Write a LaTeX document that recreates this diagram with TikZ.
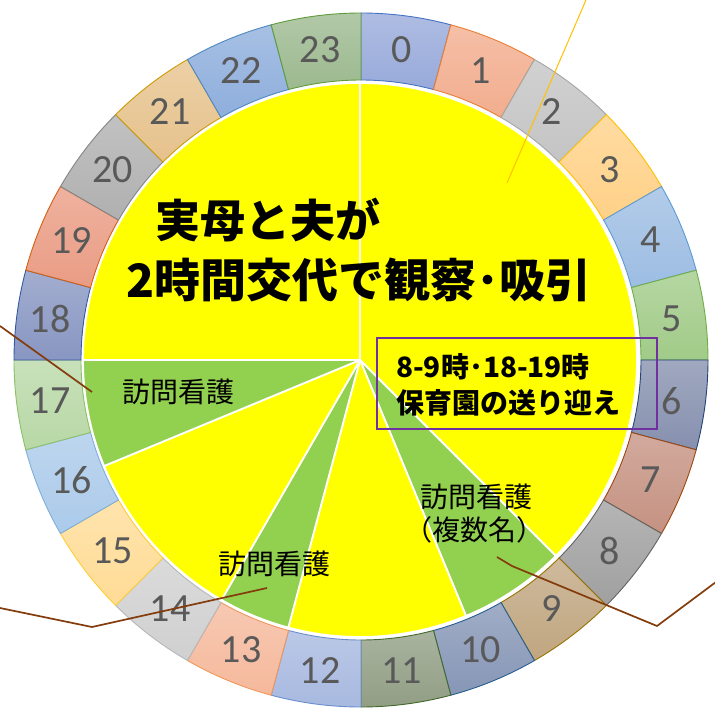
\documentclass[tikz,border=0pt]{standalone}
\usepackage{fontspec}
\newfontfamily\jp{Noto Sans CJK JP}
\newfontfamily\numf{Carlito}
\usetikzlibrary{calc}
\definecolor{s0}{HTML}{98AADA}\definecolor{b0}{HTML}{4472C4}
\definecolor{s1}{HTML}{F2AD8E}\definecolor{b1}{HTML}{ED7D31}
\definecolor{s2}{HTML}{C4C4C4}\definecolor{b2}{HTML}{A5A5A5}
\definecolor{s3}{HTML}{FFD187}\definecolor{b3}{HTML}{FFC000}
\definecolor{s4}{HTML}{9DBDE3}\definecolor{b4}{HTML}{5B9BD5}
\definecolor{s5}{HTML}{A1CB88}\definecolor{b5}{HTML}{70AD47}
\definecolor{s6}{HTML}{8690AE}\definecolor{b6}{HTML}{264478}
\definecolor{s7}{HTML}{C59282}\definecolor{b7}{HTML}{9E480E}
\definecolor{s8}{HTML}{A0A0A0}\definecolor{b8}{HTML}{636363}
\definecolor{s9}{HTML}{C0A680}\definecolor{b9}{HTML}{997300}
\definecolor{s10}{HTML}{8696B6}\definecolor{b10}{HTML}{255E91}
\definecolor{s11}{HTML}{919E84}\definecolor{b11}{HTML}{43682B}
\definecolor{s12}{HTML}{A8B9E0}\definecolor{b12}{HTML}{698ED0}
\definecolor{s13}{HTML}{F5B99C}\definecolor{b13}{HTML}{F1975A}
\definecolor{s14}{HTML}{D0D0D0}\definecolor{b14}{HTML}{B7B7B7}
\definecolor{s15}{HTML}{FFDC96}\definecolor{b15}{HTML}{FFCD33}
\definecolor{s16}{HTML}{ABCAEA}\definecolor{b16}{HTML}{7CAFDD}
\definecolor{s17}{HTML}{B8D8A6}\definecolor{b17}{HTML}{8CC168}
\definecolor{s18}{HTML}{8896C2}\definecolor{b18}{HTML}{335AA1}
\definecolor{s19}{HTML}{EA9C84}\definecolor{b19}{HTML}{D26012}
\definecolor{s20}{HTML}{B0B0B0}\definecolor{b20}{HTML}{848484}
\definecolor{s21}{HTML}{E6C28C}\definecolor{b21}{HTML}{CC9A00}
\definecolor{s22}{HTML}{8EAEDC}\definecolor{b22}{HTML}{4E89C0}
\definecolor{s23}{HTML}{9CB98F}\definecolor{b23}{HTML}{5E9C3A}
\definecolor{pieY}{HTML}{FFFF00}
\definecolor{pieG}{HTML}{92D050}
\definecolor{numgray}{HTML}{595959}
\definecolor{boxpurple}{HTML}{7030A0}
\definecolor{leaderbrown}{HTML}{843C0C}
\definecolor{leadergold}{HTML}{FFC000}
\begin{document}
\begin{tikzpicture}[x=1pt,y=-1pt,
  segment/.style={line width=0.9pt},
  numlbl/.style={font=\numf\fontsize{40}{40}\selectfont, text=numgray, inner sep=0pt},
  wedge/.style={draw=white, line width=1.8pt, line join=round},
  titletxt/.style={font=\jp\bfseries\fontsize{45}{48}\selectfont, inner sep=0pt},
  visittxt/.style={font=\jp\fontsize{28}{32}\selectfont, inner sep=0pt},
  boxtxt/.style={font=\jp\bfseries\fontsize{28}{32}\selectfont, inner sep=0pt, anchor=west},
  leader/.style={draw=leaderbrown, line width=1.7pt, line join=round},
  goldleader/.style={draw=leadergold, line width=1pt}]
\useasboundingbox (0,0) rectangle (715,709);
\begin{scope}[shift={(361,360)}]
  \foreach \h in {0,...,23}{
    \pgfmathsetmacro\aa{15*\h-90}
    \pgfmathsetmacro\ab{15*\h-75}
    \pgfmathsetmacro\am{15*\h-82.5}
    \draw[segment, draw=b\h, top color=s\h!78!white, bottom color=s\h]
      (\aa:347) arc[start angle=\aa, end angle=\ab, radius=347]
      -- (\ab:280) arc[start angle=\ab, end angle=\aa, radius=280] -- cycle;
    \node[numlbl] (n\h) at (\am:313.5) {\h};
  }
\end{scope}
\begin{scope}[shift={(360,360)}]
  \coordinate (ctr) at (0,0);
  \foreach \ta/\tb/\col in {0/135/pieY, 135/157.5/pieG, 157.5/195/pieY, 195/210/pieG, 210/247.5/pieY, 247.5/270/pieG, 270/360/pieY}{
    \draw[wedge, fill=\col] (ctr) -- ({\ta-90}:277) arc[start angle={\ta-90}, end angle={\tb-90}, radius=277] -- cycle;
  }
\end{scope}
\node[titletxt] (t1) at (268,220) {実母と夫が};
\node[titletxt, font=\jp\bfseries\fontsize{46}{48}\selectfont] (t2) at (359,280) {2時間交代で観察･吸引};
\node[visittxt] (v1) at (178,392) {訪問看護};
\node[visittxt] (v2) at (274,564) {訪問看護};
\node[visittxt] (v3) at (476,497) {訪問看護};
\node[visittxt] (v3b) at (474,530) {（複数名）};
\node[draw=boxpurple, line width=1.4pt, minimum width=280pt, minimum height=91pt, inner sep=0pt] (box) at (517,383.5) {};
\node[boxtxt] (b1) at (396,367) {8-9時･18-19時};
\node[boxtxt] (b2) at (396,403) {保育園の送り迎え};
% leader lines
\coordinate (o1) at (586,0);
\coordinate (o2) at (507,183);
\draw[goldleader] (o1) -- (o2);
\coordinate (l1s) at (0,326);
\coordinate (l1e) at (92,392);
\draw[leader] (l1s) -- (l1e);
\coordinate (l2s) at (0,608);
\coordinate (l2k) at (92,627);
\coordinate (l2e) at (267,588);
\draw[leader] (l2s) -- (l2k) -- (l2e);
\coordinate (l3s) at (497,557);
\coordinate (l3m) at (512,566);
\coordinate (l3k) at (657,626);
\coordinate (l3e) at (716,582);
\draw[leader] (l3s) -- (l3m) -- (l3k) -- (l3e);
\end{tikzpicture}
\end{document}
